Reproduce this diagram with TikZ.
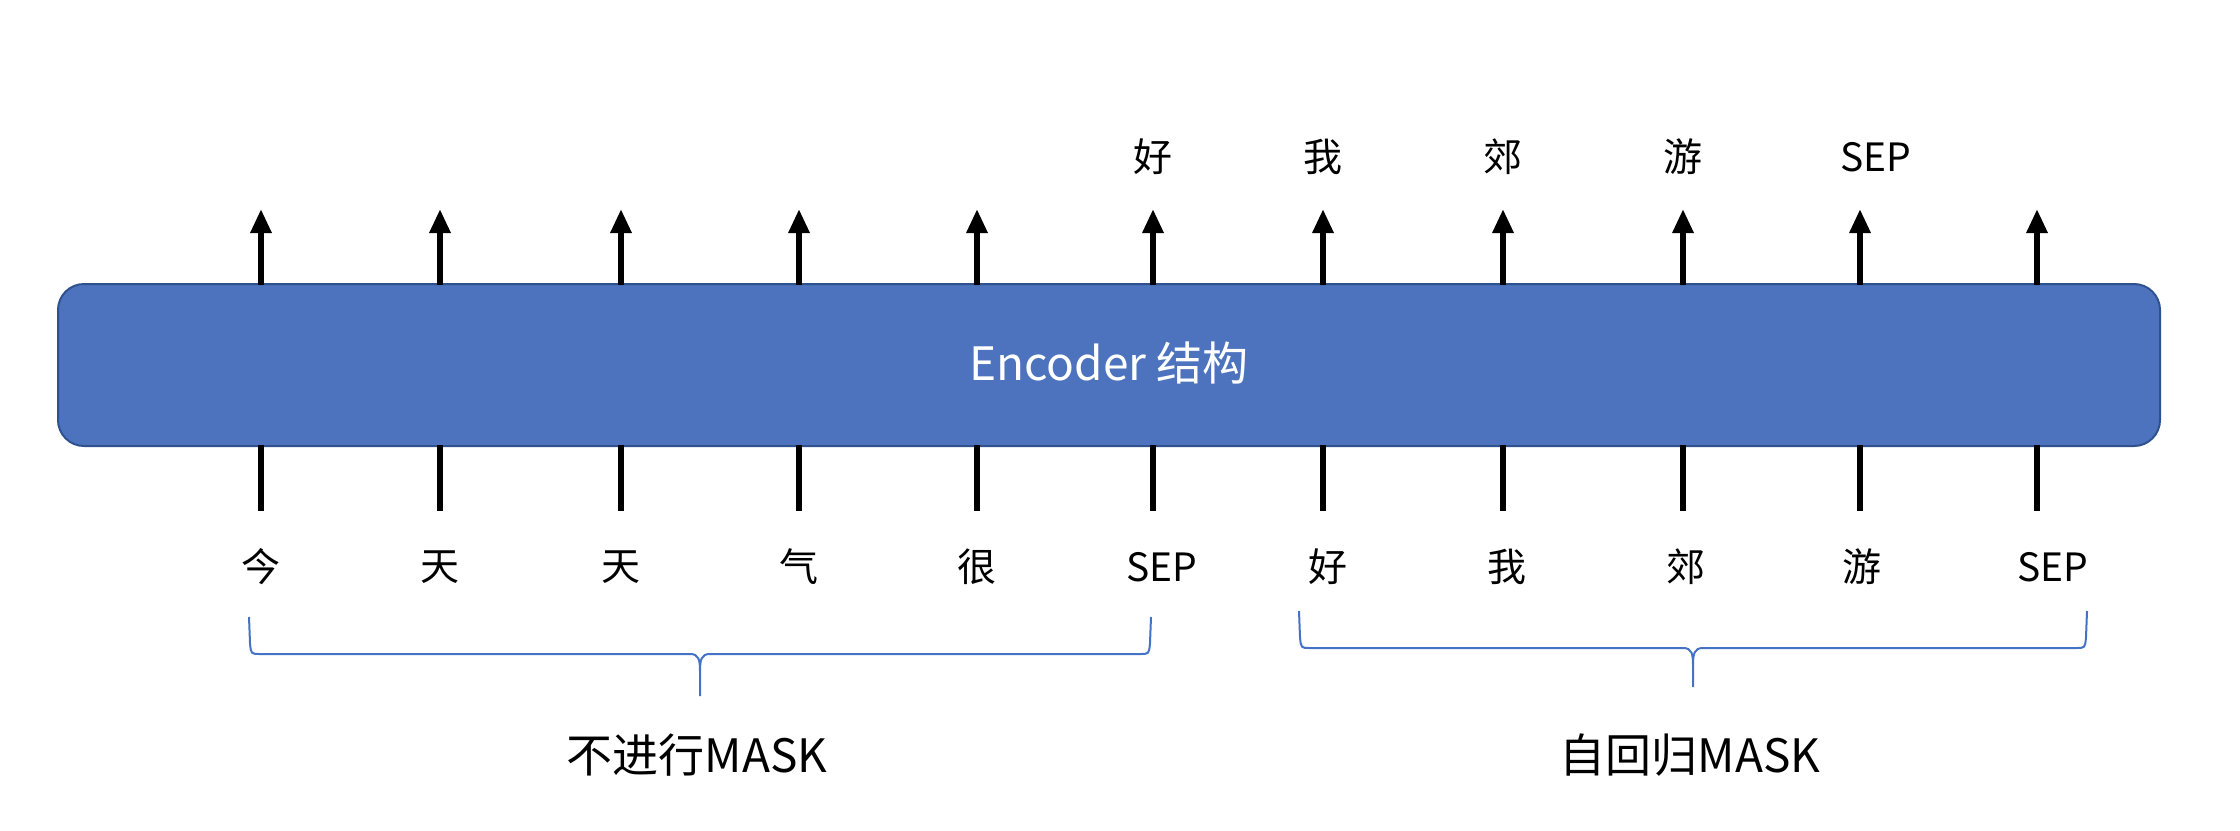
\documentclass[tikz,border=0pt]{standalone}
\usepackage{fontspec}
\setmainfont{Noto Sans CJK SC}
\usetikzlibrary{arrows.meta}
\definecolor{encfill}{HTML}{4D73BE}
\definecolor{encdraw}{HTML}{2F528F}
\definecolor{bracecol}{HTML}{4472C4}
\tikzset{
  encbox/.style={draw=encdraw, line width=2pt, fill=encfill, rounded corners=26pt},
  outarrow/.style={line width=6pt, -{Triangle[length=24pt,width=20pt]}},
  inline/.style={line width=6pt},
  tok/.style={font=\fontsize{39}{42}\selectfont, inner sep=0pt},
  grouplabel/.style={font=\fontsize{46}{50}\selectfont, inner sep=0pt},
  bracepath/.style={draw=bracecol, line width=2pt},
}
\begin{document}
\begin{tikzpicture}[x=1pt,y=-1pt]
\useasboundingbox (0,0) rectangle (2240,830);
% encoder box
\draw[encbox] (58,284) rectangle (2160,446);
\node[font=\fontsize{46}{50}\selectfont, text=white, inner sep=0pt] (enc) at (1109,363) {Encoder 结构};
% columns
\foreach \i/\x in {1/261,2/440,3/621,4/799,5/977,6/1153,7/1323,8/1503,9/1683,10/1860,11/2037}{
  \coordinate (t\i) at (\x,285);
  \coordinate (h\i) at (\x,209);
  \coordinate (b\i) at (\x,445);
  \coordinate (e\i) at (\x,511);
  \draw[outarrow] (t\i) -- (h\i);
  \draw[inline] (b\i) -- (e\i);
}
% top labels
\node[tok] (o6) at (1153,157) {好};
\node[tok] (o7) at (1323,157) {我};
\node[tok] (o8) at (1503,157) {郊};
\node[tok] (o9) at (1683,157) {游};
\node[tok] (o10) at (1876,157) {SEP};
% bottom labels
\node[tok] (i1) at (261,567) {今};
\node[tok] (i2) at (440,567) {天};
\node[tok] (i3) at (621,567) {天};
\node[tok] (i4) at (799,567) {气};
\node[tok] (i5) at (977,567) {很};
\node[tok] (i6) at (1162,567) {SEP};
\node[tok] (i7) at (1328,567) {好};
\node[tok] (i8) at (1507,567) {我};
\node[tok] (i9) at (1686,567) {郊};
\node[tok] (i10) at (1862,567) {游};
\node[tok] (i11) at (2053,567) {SEP};
% braces
\coordinate (lb1) at (249,617);
\coordinate (lb2) at (1151,617);
\coordinate (lbt) at (700,696);
\draw[bracepath] (lb1) -- (250,643) .. controls (251,654) .. (260,654) -- (690,654)
  .. controls (699,654) and (700,660) .. (700,672) -- (lbt)
  (700,672) .. controls (700,660) and (701,654) .. (710,654) -- (1140,654)
  .. controls (1149,654) .. (1150,643) -- (lb2);
\coordinate (rb1) at (1299,611);
\coordinate (rb2) at (2087,611);
\coordinate (rbt) at (1693,687);
\draw[bracepath] (rb1) -- (1300,637) .. controls (1301,648) .. (1310,648) -- (1683,648)
  .. controls (1692,648) and (1693,654) .. (1693,666) -- (rbt)
  (1693,666) .. controls (1693,654) and (1694,648) .. (1703,648) -- (2076,648)
  .. controls (2085,648) .. (2086,637) -- (rb2);
% group labels
\node[grouplabel] (g1) at (697,755) {不进行MASK};
\node[grouplabel] (g2) at (1690,755) {自回归MASK};
\end{tikzpicture}
\end{document}
